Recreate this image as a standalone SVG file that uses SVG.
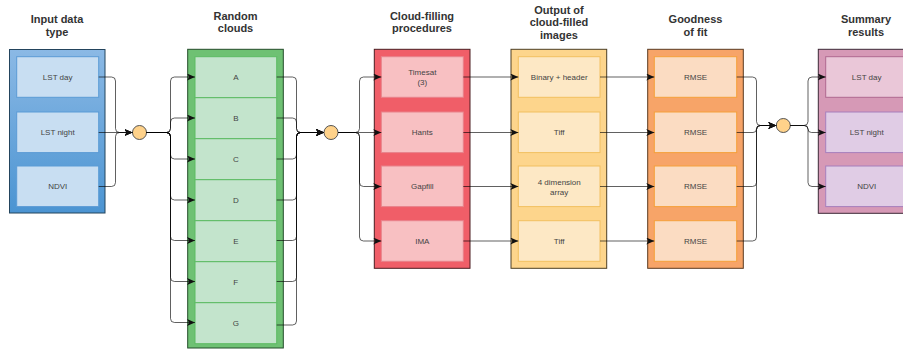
<svg xmlns="http://www.w3.org/2000/svg" width="903" height="349" viewBox="0 0 903 349">
<style>
.t{font-family:"Liberation Sans",Arial,sans-serif;font-size:11px;font-weight:bold;fill:#333;text-anchor:middle}
.l{font-family:"Liberation Sans",Arial,sans-serif;font-size:8px;fill:#444;text-anchor:middle}
.e{fill:none;stroke:#000;stroke-opacity:0.62;stroke-width:1}
.ea{fill:none;stroke:#000;stroke-opacity:0.62;stroke-width:1;marker-end:url(#arr)}
.dot{fill:#ffd28a;stroke:#555;stroke-width:1}
.bi{fill:#c8def2;stroke:#5b9bd5}
.gi{fill:#c3e4cc;stroke:#5dbb63}
.ri{fill:#f8c0c2;stroke:#e8828a}
.yi{fill:#fde8c5;stroke:#f2c060}
.oi{fill:#fbdcc2;stroke:#f5a03a}
.pi{fill:#e0cce5;stroke:#a67fbc}
</style>
<defs>
<linearGradient id="bg" x1="0" y1="0" x2="0" y2="1">
<stop offset="0" stop-color="#8bb9e5"/>
<stop offset="1" stop-color="#4b94d2"/>
</linearGradient>
<marker id="arr" markerUnits="userSpaceOnUse" markerWidth="9" markerHeight="8" refX="8" refY="3.5" orient="auto">
<path d="M0,0 L8,3.5 L0,7 L2,3.5 z" fill="#111"/>
</marker>
</defs>

<g id="titles">
<text class="t" x="57" y="23">Input data</text>
<text class="t" x="57" y="35.5">type</text>
<text class="t" x="235.5" y="20">Random</text>
<text class="t" x="235.5" y="32">clouds</text>
<text class="t" x="422" y="19.5">Cloud-filling</text>
<text class="t" x="422" y="31.5">procedures</text>
<text class="t" x="559" y="13.5">Output of</text>
<text class="t" x="559" y="26">cloud-filled</text>
<text class="t" x="559" y="38.5">images</text>
<text class="t" x="695.5" y="23">Goodness</text>
<text class="t" x="695.5" y="35.5">of fit</text>
<text class="t" x="866" y="23">Summary</text>
<text class="t" x="866" y="35.5">results</text>
</g>

<g id="input-data">
<rect x="9.5" y="49.5" width="95.5" height="163.5" fill="url(#bg)" stroke="#23445d"/>
<g id="in-lstday"><rect class="bi" x="16.7" y="56.7" width="82" height="40.6"/><text class="l" x="57.7" y="80">LST day</text></g>
<g id="in-lstnight"><rect class="bi" x="16.7" y="112" width="82" height="40.6"/><text class="l" x="57.7" y="135.3">LST night</text></g>
<g id="in-ndvi"><rect class="bi" x="16.7" y="166" width="82" height="40.6"/><text class="l" x="57.7" y="189.3">NDVI</text></g>
</g>

<g id="random-clouds">
<rect x="187.7" y="49.3" width="95.6" height="298.7" fill="#6ec173" stroke="#234d2a"/>
<g id="rc-a"><rect class="gi" x="195" y="56.7" width="81.7" height="41"/><text class="l" x="235.8" y="80">A</text></g>
<g id="rc-b"><rect class="gi" x="195" y="97.7" width="81.7" height="41"/><text class="l" x="235.8" y="121">B</text></g>
<g id="rc-c"><rect class="gi" x="195" y="138.7" width="81.7" height="41"/><text class="l" x="235.8" y="162">C</text></g>
<g id="rc-d"><rect class="gi" x="195" y="179.7" width="81.7" height="41"/><text class="l" x="235.8" y="203">D</text></g>
<g id="rc-e"><rect class="gi" x="195" y="220.7" width="81.7" height="41"/><text class="l" x="235.8" y="244">E</text></g>
<g id="rc-f"><rect class="gi" x="195" y="261.7" width="81.7" height="41"/><text class="l" x="235.8" y="285">F</text></g>
<g id="rc-g"><rect class="gi" x="195" y="302.7" width="81.7" height="41"/><text class="l" x="235.8" y="326">G</text></g>
</g>

<g id="cloud-filling">
<rect x="374.3" y="49.3" width="95.7" height="219" fill="#f05e68" stroke="#4a1d21"/>
<g id="cf-timesat"><rect class="ri" x="381.3" y="56.7" width="82" height="40.6"/><text class="l" x="422.3" y="75">Timesat</text><text class="l" x="422.3" y="85">(3)</text></g>
<g id="cf-hants"><rect class="ri" x="381.3" y="112" width="82" height="40.6"/><text class="l" x="422.3" y="135.3">Hants</text></g>
<g id="cf-gapfill"><rect class="ri" x="381.3" y="166" width="82" height="40.6"/><text class="l" x="422.3" y="189.3">Gapfill</text></g>
<g id="cf-ima"><rect class="ri" x="381.3" y="220.7" width="82" height="40.6"/><text class="l" x="422.3" y="244">IMA</text></g>
</g>

<g id="output-images">
<rect x="511" y="49.3" width="95.7" height="219" fill="#fdd58c" stroke="#4d3f24"/>
<g id="out-binary"><rect class="yi" x="518.3" y="56.7" width="81.7" height="40.6"/><text class="l" x="559.2" y="80">Binary + header</text></g>
<g id="out-tiff1"><rect class="yi" x="518.3" y="112" width="81.7" height="40.6"/><text class="l" x="559.2" y="135.3">Tiff</text></g>
<g id="out-array"><rect class="yi" x="518.3" y="166" width="81.7" height="40.6"/><text class="l" x="559.2" y="185">4 dimension</text><text class="l" x="559.2" y="194.5">array</text></g>
<g id="out-tiff2"><rect class="yi" x="518.3" y="220.7" width="81.7" height="40.6"/><text class="l" x="559.2" y="244">Tiff</text></g>
</g>

<g id="goodness-of-fit">
<rect x="647.7" y="49.3" width="95.6" height="219" fill="#f7a468" stroke="#5a3a21"/>
<g id="gf-1"><rect class="oi" x="654.3" y="56.7" width="82.4" height="40.6"/><text class="l" x="695.5" y="80">RMSE</text></g>
<g id="gf-2"><rect class="oi" x="654.3" y="112" width="82.4" height="40.6"/><text class="l" x="695.5" y="135.3">RMSE</text></g>
<g id="gf-3"><rect class="oi" x="654.3" y="166" width="82.4" height="40.6"/><text class="l" x="695.5" y="189.3">RMSE</text></g>
<g id="gf-4"><rect class="oi" x="654.3" y="220.7" width="82.4" height="40.6"/><text class="l" x="695.5" y="244">RMSE</text></g>
</g>

<g id="summary-results">
<rect x="818.3" y="49.3" width="96" height="164" fill="#d699b6" stroke="#3d2836"/>
<g id="sr-lstday"><rect x="825.7" y="56.7" width="82" height="40.6" fill="#eac7d8" stroke="#b0688f"/><text class="l" x="866.7" y="80">LST day</text></g>
<g id="sr-lstnight"><rect class="pi" x="825.7" y="112" width="82" height="40.6"/><text class="l" x="866.7" y="135.3">LST night</text></g>
<g id="sr-ndvi"><rect class="pi" x="825.7" y="166" width="82" height="40.6"/><text class="l" x="866.7" y="189.3">NDVI</text></g>
</g>

<g id="junctions">
<circle id="j1" class="dot" cx="139.5" cy="132.5" r="7"/>
<circle id="j2" class="dot" cx="331" cy="132.5" r="7"/>
<circle id="j3" class="dot" cx="783.3" cy="125.5" r="7"/>
</g>

<g id="connectors">
<!-- input -> j1 -->
<path class="ea" d="M98.7 77 H111.5 Q115.5 77 115.5 81 V128.5 Q115.5 132.5 119.5 132.5 H132.5"/>
<path class="ea" d="M98.7 132.5 H132.5"/>
<path class="ea" d="M98.7 186.5 H111.5 Q115.5 186.5 115.5 182.5 V136.5 Q115.5 132.5 119.5 132.5 H132.5"/>
<!-- j1 -> random clouds -->
<path class="ea" d="M146.5 132.5 H166.5 Q170.5 132.5 170.5 128.5 V81 Q170.5 77 174.5 77 H195"/>
<path class="ea" d="M146.5 132.5 H166.5 Q170.5 132.5 170.5 128.5 V122 Q170.5 118 174.5 118 H195"/>
<path class="ea" d="M146.5 132.5 H166.5 Q170.5 132.5 170.5 136.5 V155 Q170.5 159 174.5 159 H195"/>
<path class="ea" d="M146.5 132.5 H166.5 Q170.5 132.5 170.5 136.5 V196 Q170.5 200 174.5 200 H195"/>
<path class="ea" d="M146.5 132.5 H166.5 Q170.5 132.5 170.5 136.5 V236.5 Q170.5 240.5 174.5 240.5 H195"/>
<path class="ea" d="M146.5 132.5 H166.5 Q170.5 132.5 170.5 136.5 V277.5 Q170.5 281.5 174.5 281.5 H195"/>
<path class="ea" d="M146.5 132.5 H166.5 Q170.5 132.5 170.5 136.5 V318.5 Q170.5 322.5 174.5 322.5 H195"/>
<!-- random clouds -> j2 -->
<path class="ea" d="M276.7 77 H292.5 Q296.5 77 296.5 81 V128.5 Q296.5 132.5 300.5 132.5 H324"/>
<path class="ea" d="M276.7 118 H292.5 Q296.5 118 296.5 122 V128.5 Q296.5 132.5 300.5 132.5 H324"/>
<path class="ea" d="M276.7 159 H292.5 Q296.5 159 296.5 155 V136.5 Q296.5 132.5 300.5 132.5 H324"/>
<path class="ea" d="M276.7 200 H292.5 Q296.5 200 296.5 196 V136.5 Q296.5 132.5 300.5 132.5 H324"/>
<path class="ea" d="M276.7 240.5 H292.5 Q296.5 240.5 296.5 236.5 V136.5 Q296.5 132.5 300.5 132.5 H324"/>
<path class="ea" d="M276.7 281.5 H292.5 Q296.5 281.5 296.5 277.5 V136.5 Q296.5 132.5 300.5 132.5 H324"/>
<path class="ea" d="M276.7 325 H292.5 Q296.5 325 296.5 321 V136.5 Q296.5 132.5 300.5 132.5 H324"/>
<!-- j2 -> cloud filling -->
<path class="ea" d="M338 132.5 H355.5 Q359.5 132.5 359.5 128.5 V81 Q359.5 77 363.5 77 H381.3"/>
<path class="ea" d="M338 132.5 H381.3"/>
<path class="ea" d="M338 132.5 H355.5 Q359.5 132.5 359.5 136.5 V182.5 Q359.5 186.5 363.5 186.5 H381.3"/>
<path class="ea" d="M338 132.5 H355.5 Q359.5 132.5 359.5 136.5 V237 Q359.5 241 363.5 241 H381.3"/>
<!-- cloud filling -> outputs -->
<path class="ea" d="M463.3 77 H518.3"/>
<path class="ea" d="M463.3 132.5 H518.3"/>
<path class="ea" d="M463.3 186.5 H518.3"/>
<path class="ea" d="M463.3 241 H518.3"/>
<!-- outputs -> goodness of fit -->
<path class="ea" d="M600 77 H654.3"/>
<path class="ea" d="M600 132.5 H654.3"/>
<path class="ea" d="M600 186.5 H654.3"/>
<path class="ea" d="M600 241 H654.3"/>
<!-- goodness of fit -> j3 -->
<path class="ea" d="M736.7 77 H752.5 Q756.5 77 756.5 81 V121.5 Q756.5 125.5 760.5 125.5 H776.3"/>
<path class="ea" d="M736.7 132.5 H753 Q756.5 132.5 756.5 129 Q756.5 125.5 760 125.5 H776.3"/>
<path class="ea" d="M736.7 186.5 H752.5 Q756.5 186.5 756.5 182.5 V129.5 Q756.5 125.5 760.5 125.5 H776.3"/>
<path class="ea" d="M736.7 241 H752.5 Q756.5 241 756.5 237 V129.5 Q756.5 125.5 760.5 125.5 H776.3"/>
<!-- j3 -> summary -->
<path class="ea" d="M790.3 125.5 H804 Q808 125.5 808 121.5 V81 Q808 77 812 77 H825.7"/>
<path class="ea" d="M790.3 125.5 H804.5 Q808 125.5 808 129 Q808 132.5 811.5 132.5 H825.7"/>
<path class="ea" d="M790.3 125.5 H804 Q808 125.5 808 129.5 V182.5 Q808 186.5 812 186.5 H825.7"/>
</g>
</svg>
